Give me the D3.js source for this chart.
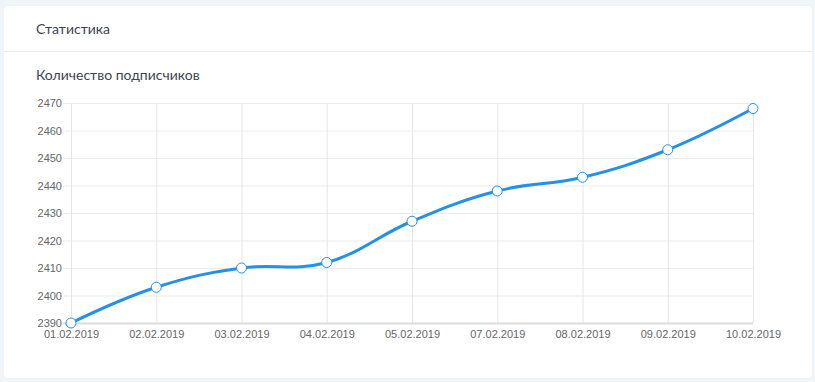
<!DOCTYPE html>
<html>
<head>
<meta charset="utf-8">
<script src="https://cdn.jsdelivr.net/npm/d3@7"></script>
<style>
  body { margin: 0; background: #f0f5fa; font-family: Lato, "Open Sans", sans-serif; }
  .card { position: absolute; left: 4px; top: 6px; width: 808px; height: 372px;
          background: #fff; border-radius: 4px; box-shadow: 0 0 1px rgba(0,0,0,0.06); }
  .head { height: 46px; border-bottom: 1px solid #ebebeb; box-sizing: border-box;
          padding: 14px 0 0 32px; font-size: 14px; color: #3d4450; }
  .sub { position: absolute; left: 32px; top: 60px; font-size: 14px; color: #3d4450; }
  #chart { position: absolute; left: 0; top: 0; }
</style>
</head>
<body>
<div class="card">
  <div class="head">Статистика</div>
  <div class="sub">Количество подписчиков</div>
</div>
<div id="chart"></div>
<script>
// dates on the x axis (06.02 is not in the data)
const dates = ['01.02.2019', '02.02.2019', '03.02.2019', '04.02.2019', '05.02.2019',
  '07.02.2019', '08.02.2019', '09.02.2019', '10.02.2019']
// subscriber counts
const subscribers = [2390, 2403, 2410, 2412, 2427, 2438, 2443, 2453, 2468]
const yTicks = [2390, 2400, 2410, 2420, 2430, 2440, 2450, 2460, 2470]

const width = 815
const height = 382
const marginLeft = 71
const marginRight = 62
const marginTop = 103
const marginBottom = 59

const x = d3.scalePoint()
    .domain(dates)
    .range([marginLeft, width - marginRight])

const y = d3.scaleLinear()
    .domain([2390, 2470])
    .range([height - marginBottom, marginTop])

const svg = d3.create('svg')
    .attr('width', width)
    .attr('height', height)

// horizontal grid + y labels
const leftAxis = svg.append('g')
    .attr('transform', `translate(${marginLeft},0)`)
    .call(d3.axisLeft(y)
      .tickValues(yTicks)
      .tickFormat(d3.format('d'))
      .tickSizeInner(-(width - marginRight - marginLeft))
      .tickSizeOuter(0)
      .tickPadding(9))
leftAxis.select('.domain').attr('stroke', '#ddd')
leftAxis.selectAll('.tick line')
    .attr('x1', -8)
    .attr('stroke', (d) => d === 2390 ? '#dcdcdc' : '#ebebeb')
    .attr('stroke-width', (d) => d === 2390 ? 2 : 1)
leftAxis.selectAll('.tick text')
    .attr('fill', '#666')
    .style('font-family', '"Liberation Sans", Arial, sans-serif')
    .style('font-size', '11px')

// vertical grid + x labels
const bottomAxis = svg.append('g')
    .attr('transform', `translate(0,${height - marginBottom})`)
    .call(d3.axisBottom(x)
      .tickSizeInner(-(height - marginBottom - marginTop))
      .tickSizeOuter(0)
      .tickPadding(7))
bottomAxis.select('.domain').remove()
bottomAxis.selectAll('.tick line')
    .attr('y1', 0)
    .attr('stroke', '#e6e6e6')
bottomAxis.selectAll('.tick text')
    .attr('fill', '#666')
    .style('font-family', '"Liberation Sans", Arial, sans-serif')
    .style('font-size', '11px')

const points = dates.map((d, i) => ({ date: d, value: subscribers[i] }))

const line = d3.line()
    .x(d => x(d.date))
    .y(d => y(d.value))
    .curve(d3.curveCardinal.tension(-0.2))

svg.append('path')
    .datum(points)
    .attr('d', line)
    .attr('fill', 'none')
    .attr('stroke', '#2590e8')
    .attr('stroke-width', 3)

svg.append('g')
  .selectAll('circle')
  .data(points)
  .enter()
  .append('circle')
    .attr('cx', d => x(d.date))
    .attr('cy', d => y(d.value))
    .attr('r', 5)
    .attr('fill', '#fff')
    .attr('stroke', '#2590e8')
    .attr('stroke-width', 1)

d3.select('#chart').append(() => svg.node())
</script>
</body>
</html>
